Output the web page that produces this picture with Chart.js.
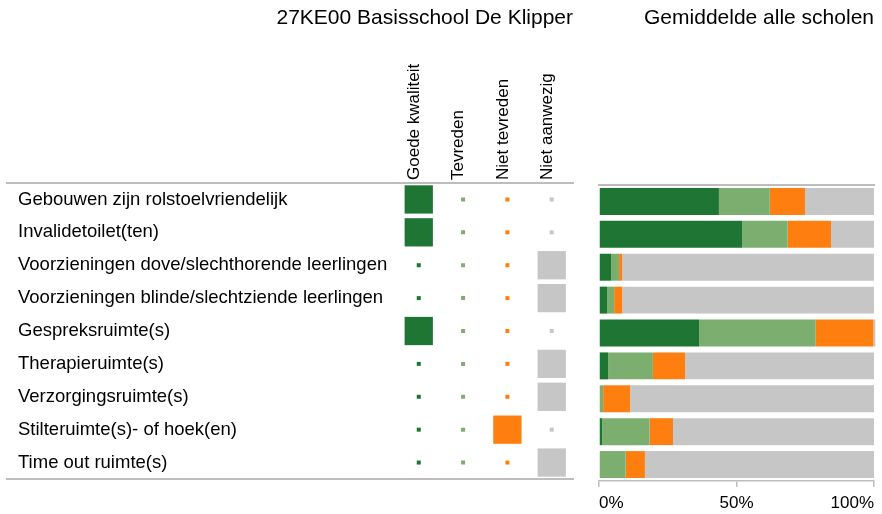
<!DOCTYPE html>
<html>
<head>
<meta charset="utf-8">
<script src="https://cdn.jsdelivr.net/npm/chart.js@4/dist/chart.umd.min.js"></script>
<style>
  html, body { margin: 0; padding: 0; background: #fff; }
  #wrap { position: relative; width: 882px; height: 514px; overflow: hidden; }
  #left { position: absolute; left: 0; top: 0; }
  #right { position: absolute; left: 590px; top: 0; }
</style>
</head>
<body>
<div id="wrap">
  <canvas id="left" width="590" height="514"></canvas>
  <canvas id="right" width="292" height="514"></canvas>
</div>
<script>
// ---- data ----
const schoolTitle = '27KE00 Basisschool De Klipper';
const averageTitle = 'Gemiddelde alle scholen';
const categories = [
  'Gebouwen zijn rolstoelvriendelijk',
  'Invalidetoilet(ten)',
  'Voorzieningen dove/slechthorende leerlingen',
  'Voorzieningen blinde/slechtziende leerlingen',
  'Gespreksruimte(s)',
  'Therapieruimte(s)',
  'Verzorgingsruimte(s)',
  'Stilteruimte(s)- of hoek(en)',
  'Time out ruimte(s)'
];
const answerColumns = ['Goede kwaliteit', 'Tevreden', 'Niet tevreden', 'Niet aanwezig'];
// answer given by this school per category
const schoolAnswer = [
  'Goede kwaliteit', 'Goede kwaliteit', 'Niet aanwezig', 'Niet aanwezig',
  'Goede kwaliteit', 'Niet aanwezig', 'Niet aanwezig', 'Niet tevreden', 'Niet aanwezig'
];
// averages of all schools (%)
const avgGoedeKwaliteit = [43.6, 52.0, 4.4, 2.9, 36.4, 3.3, 0, 1.1, 0];
const avgTevreden       = [18.5, 16.6, 2.9, 2.6, 42.4, 16.3, 1.5, 17.3, 9.7];
const avgNietTevreden   = [12.8, 15.8, 1.1, 2.9, 21.0, 11.7, 9.8, 8.5, 7.0];
const avgNietAanwezig   = [25.1, 15.6, 91.6, 91.6, 0.7, 68.7, 88.7, 73.1, 83.3];
const xTickValues = [0, 50, 100];

// ---- styles ----
const colors = ['#1e7534', '#7caf6f', '#fe7f10', '#c6c6c6'];
const lineColor = '#bdbdbd';
const FONT = "'Liberation Sans', Arial, sans-serif";
Chart.defaults.font.family = FONT;
Chart.defaults.color = '#000';
Chart.defaults.animation = false;

const TITLE_BLOCK = 6 + 21 * 1.2; // padding top + line height

// ---- left: school answers table ----
new Chart(document.getElementById('left'), {
  type: 'scatter',
  data: {
    datasets: answerColumns.map((col, c) => ({
      label: col,
      data: categories.map(cat => ({ x: c + 1, y: cat })),
      pointStyle: 'rect',
      backgroundColor: colors[c],
      borderWidth: 0,
      pointBorderWidth: 0,
      pointRadius: ctx => schoolAnswer[ctx.dataIndex] === col ? 20 : 2.83,
      pointHoverRadius: ctx => schoolAnswer[ctx.dataIndex] === col ? 20 : 2.83
    }))
  },
  options: {
    responsive: false,
    events: [],
    layout: { autoPadding: false, padding: { left: 7, right: 17, top: 0, bottom: 0 } },
    plugins: {
      legend: { display: false },
      tooltip: { enabled: false },
      title: {
        display: true, text: schoolTitle, align: 'end',
        font: { size: 21, weight: 'normal' }, color: '#000',
        padding: { top: 6, bottom: 0 }
      }
    },
    scales: {
      x: {
        type: 'linear', position: 'top', min: -8.29, max: 4.48,
        afterBuildTicks: s => { s.ticks = answerColumns.map((_, i) => ({ value: i + 1 })); },
        afterFit: s => { s.height = 183 - TITLE_BLOCK; },
        ticks: {
          autoSkip: false, minRotation: 90, maxRotation: 90, padding: 3, labelOffset: 16,
          font: { size: 17 }, color: '#000',
          callback: v => answerColumns[v - 1]
        },
        grid: { display: false, drawTicks: false },
        border: { display: true, color: lineColor, width: 2 }
      },
      xb: {
        type: 'linear', position: 'bottom', min: 0, max: 1,
        afterFit: s => { s.height = 514 - 479; },
        ticks: { display: false },
        grid: { display: false, drawTicks: false },
        border: { display: true, color: lineColor, width: 2 }
      },
      y: {
        type: 'category', labels: categories, offset: true,
        afterFit: s => { s.width = 0; },
        ticks: { mirror: true, padding: 11, font: { size: 18.5 }, color: '#000', autoSkip: false },
        grid: { display: false, drawTicks: false },
        border: { display: false }
      }
    }
  }
});

// ---- right: averages of all schools ----
const avgSeries = [avgGoedeKwaliteit, avgTevreden, avgNietTevreden, avgNietAanwezig];
new Chart(document.getElementById('right'), {
  type: 'bar',
  data: {
    labels: categories,
    datasets: answerColumns.map((col, c) => ({
      label: col,
      data: avgSeries[c],
      backgroundColor: colors[c],
      borderWidth: 0,
      barPercentage: 0.82,
      categoryPercentage: 1,
      clip: false
    }))
  },
  options: {
    responsive: false,
    events: [],
    indexAxis: 'y',
    layout: { autoPadding: false, padding: { left: 9, right: 8, top: 0, bottom: 0 } },
    plugins: {
      legend: { display: false },
      tooltip: { enabled: false },
      title: {
        display: true, text: averageTitle, align: 'end',
        font: { size: 21, weight: 'normal' }, color: '#000',
        padding: { top: 6, bottom: 0 }
      }
    },
    scales: {
      x: {
        type: 'linear', position: 'bottom', stacked: true, min: 0, max: 100,
        afterBuildTicks: s => { s.ticks = xTickValues.map(v => ({ value: v })); },
        afterFit: s => { s.height = 514 - 481; },
        ticks: { align: 'inner', padding: 6, font: { size: 17 }, color: '#000', callback: v => v + '%' },
        grid: { drawOnChartArea: false, drawTicks: true, tickLength: 6, color: lineColor, lineWidth: 1.5 },
        border: { display: true, color: lineColor, width: 1.5 }
      },
      xt: {
        type: 'linear', position: 'top', min: 0, max: 1,
        afterFit: s => { s.height = 185 - TITLE_BLOCK; },
        ticks: { display: false },
        grid: { display: false, drawTicks: false },
        border: { display: true, color: lineColor, width: 2 }
      },
      y: {
        type: 'category', stacked: true, display: false
      }
    }
  }
});
</script>
</body>
</html>
